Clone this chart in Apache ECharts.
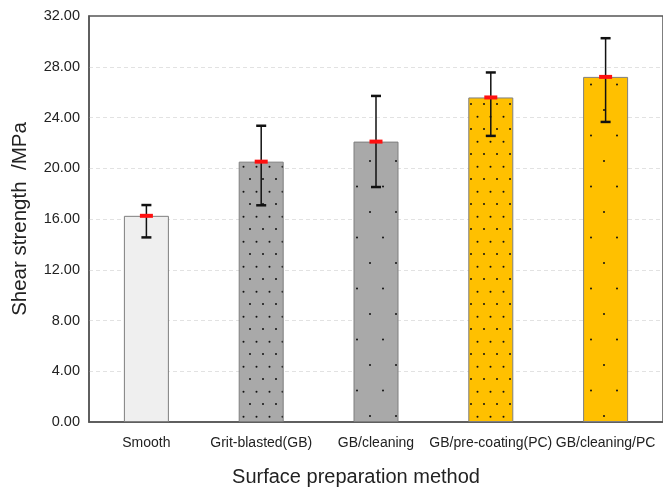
<!doctype html>
<html lang="en">
<head>
  <meta charset="utf-8">
  <title>Shear strength by surface preparation</title>
  <script src="https://cdn.jsdelivr.net/npm/echarts@6/dist/echarts.min.js"></script>
  <style>
    html, body { margin: 0; padding: 0; background: #fff; }
    #chartmain { width: 663px; height: 492px; }
  </style>
</head>
<body>
<div id="chartmain"></div>
<script>
  // data
  var categories = ['Smooth', 'Grit-blasted(GB)', 'GB/cleaning', 'GB/pre-coating(PC)', 'GB/cleaning/PC'];
  var meanValues = [16.25, 20.52, 22.10, 25.58, 27.20];
  var errHigh = [17.10, 23.35, 25.70, 27.55, 30.25];
  var errLow = [14.55, 17.08, 18.52, 22.55, 23.65];
  var yTicks = [0, 4, 8, 12, 16, 20, 24, 28, 32];

  // dotted fills
  function dotPattern(bg, w, h, dots) {
    var c = document.createElement('canvas');
    c.width = w; c.height = h;
    var ctx = c.getContext('2d');
    ctx.fillStyle = bg;
    ctx.fillRect(0, 0, w, h);
    ctx.fillStyle = '#111';
    dots.forEach(function (d) {
      ctx.beginPath();
      ctx.arc(d[0], d[1], 1, 0, Math.PI * 2);
      ctx.fill();
    });
    return { image: c, repeat: 'repeat' };
  }
  var dense = [[3, 4], [9.5, 16.8]];
  var sparse = [[6, 8], [19, 33.6]];
  var fills = [
    '#efefef',
    dotPattern('#a9a9a9', 13, 25.6, dense),
    dotPattern('#a9a9a9', 26, 51.2, sparse),
    dotPattern('#ffc000', 13, 25.6, dense),
    dotPattern('#ffc000', 26, 51.2, sparse)
  ];

  var barData = meanValues.map(function (v, i) {
    return { value: v, itemStyle: { color: fills[i] } };
  });
  var errData = meanValues.map(function (v, i) {
    return [i, errLow[i], errHigh[i], v];
  });

  var font = 'Liberation Sans, Arial, sans-serif';
  var myChart = echarts.init(document.getElementById('chartmain'));
  var option = {
    backgroundColor: '#fff',
    animation: false,
    grid: {
      left: 89, top: 16, bottom: 67, width: 578,
      show: true, borderColor: '#555', borderWidth: 1.5
    },
    xAxis: {
      type: 'category',
      data: categories,
      axisLine: { lineStyle: { color: '#555', width: 1.5 } },
      axisTick: { show: false },
      axisLabel: {
        color: '#222', fontSize: 14, margin: 14, interval: 0, fontFamily: font
      },
      name: 'Surface preparation method',
      nameLocation: 'middle',
      nameGap: 45,
      nameTextStyle: {
        color: '#222', fontSize: 20, padding: [0, 40, 0, 0], fontFamily: font
      }
    },
    yAxis: {
      type: 'value',
      min: yTicks[0],
      max: yTicks[yTicks.length - 1],
      interval: 4,
      axisLine: { show: true, lineStyle: { color: '#555', width: 1.5 } },
      axisTick: { show: false },
      axisLabel: {
        color: '#222', fontSize: 14.5, margin: 9, fontFamily: font,
        formatter: function (v) { return v.toFixed(2); }
      },
      splitLine: {
        showMinLine: false, showMaxLine: false,
        lineStyle: { color: '#e2e2e2', type: [4, 3], width: 1 }
      },
      name: 'Shear strength  /MPa',
      nameLocation: 'middle',
      nameGap: 58,
      nameTextStyle: { color: '#222', fontSize: 20.5, fontFamily: font }
    },
    series: [
      {
        type: 'bar',
        data: barData,
        barWidth: 45,
        itemStyle: { borderColor: '#7f7f7f', borderWidth: 1 }
      },
      {
        type: 'custom',
        data: errData,
        z: 10,
        renderItem: function (params, api) {
          var x = api.value(0);
          var lo = api.coord([x, api.value(1)]);
          var hi = api.coord([x, api.value(2)]);
          var mid = api.coord([x, api.value(3)]);
          var capW = 5;
          var black = { stroke: '#111', lineWidth: 1.5 };
          var cap = { stroke: '#111', lineWidth: 2.5 };
          return {
            type: 'group',
            children: [
              { type: 'line', shape: { x1: hi[0], y1: hi[1], x2: lo[0], y2: lo[1] }, style: black },
              { type: 'line', shape: { x1: hi[0] - capW, y1: hi[1], x2: hi[0] + capW, y2: hi[1] }, style: cap },
              { type: 'line', shape: { x1: lo[0] - capW, y1: lo[1], x2: lo[0] + capW, y2: lo[1] }, style: cap },
              { type: 'line', shape: { x1: mid[0] - 6.5, y1: mid[1], x2: mid[0] + 6.5, y2: mid[1] }, style: { stroke: '#ff1010', lineWidth: 4 } }
            ]
          };
        }
      }
    ]
  };
  myChart.setOption(option);
</script>
</body>
</html>
